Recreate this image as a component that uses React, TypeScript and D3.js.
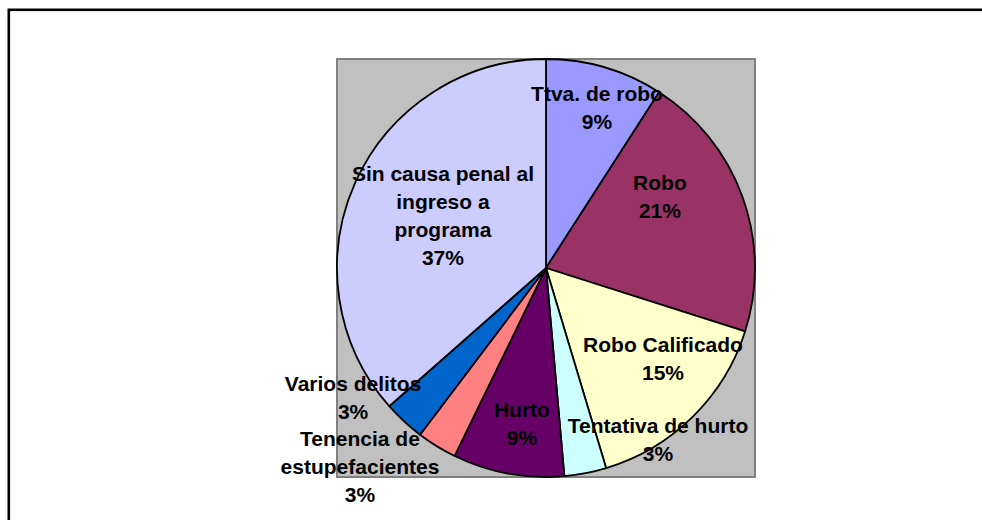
import React from "react";
import * as d3 from "d3";

const categories = [
  "Ttva. de robo",
  "Robo",
  "Robo Calificado",
  "Tentativa de hurto",
  "Hurto",
  "Tenencia de estupefacientes",
  "Varios delitos",
  "Sin causa penal al ingreso a programa",
];
const shares = [9.1, 20.8, 15.45, 3.25, 8.6, 3.1, 3.2, 36.5];
const percentLabels = ["9%", "21%", "15%", "3%", "9%", "3%", "3%", "37%"];
const labelLines = [
  ["Ttva. de robo"],
  ["Robo"],
  ["Robo Calificado"],
  ["Tentativa de hurto"],
  ["Hurto"],
  ["Tenencia de", "estupefacientes"],
  ["Varios delitos"],
  ["Sin causa penal al", "ingreso a", "programa"],
];

// layout (not data)
const colors = ["#9999FF", "#993366", "#FFFFCC", "#CCFFFF", "#660066", "#FF8080", "#0066CC", "#CCCCFF"];
const labelOffsets: [number, number][] = [
  [0.244, -0.77],
  [0.545, -0.34],
  [0.56, 0.435],
  [0.536, 0.821],
  [-0.115, 0.744],
  [-0.89, 0.952],
  [-0.923, 0.62],
  [-0.493, -0.25],
];

export default function App() {
  const W = 982;
  const H = 520;
  const plotX = 337;
  const plotY = 59;
  const plotSize = 418;
  const cx = plotX + plotSize / 2;
  const cy = plotY + plotSize / 2;
  const R = plotSize / 2;

  const pie = d3.pie<number>().sort(null).value((d) => d);
  const arcs = pie(shares);
  const arcGen = d3.arc<d3.PieArcDatum<number>>().innerRadius(0).outerRadius(R);
  const lineH = 28;

  return (
    <svg
      width={W}
      height={H}
      style={{ position: "fixed", left: 0, top: 0, background: "#fff" }}
      fontFamily="'Liberation Sans', Arial, sans-serif"
    >
      <rect x={0} y={0} width={W} height={H} fill="#fff" />
      <rect x={8.8} y={9.8} width={W + 20} height={H + 20} fill="none" stroke="#000" strokeWidth={2.6} />
      <rect x={plotX} y={plotY} width={plotSize} height={plotSize} fill="#C0C0C0" stroke="#808080" strokeWidth={2} />
      <g transform={`translate(${cx},${cy})`}>
        {arcs.map((a, i) => (
          <path key={categories[i]} d={arcGen(a) || ""} fill={colors[i]} stroke="#000" strokeWidth={1.8} strokeLinejoin="round" />
        ))}
      </g>
      <g fontWeight="bold" fontSize={21} fill="#000" textAnchor="middle">
        {labelLines.map((lines, i) => {
          const all = [...lines, percentLabels[i]];
          const lx = cx + labelOffsets[i][0] * R;
          const ly = cy + labelOffsets[i][1] * R;
          return (
            <text key={categories[i]}>
              {all.map((t, j) => (
                <tspan key={j} x={lx} y={ly + (j - (all.length - 1) / 2) * lineH + 7.5}>
                  {t}
                </tspan>
              ))}
            </text>
          );
        })}
      </g>
    </svg>
  );
}
